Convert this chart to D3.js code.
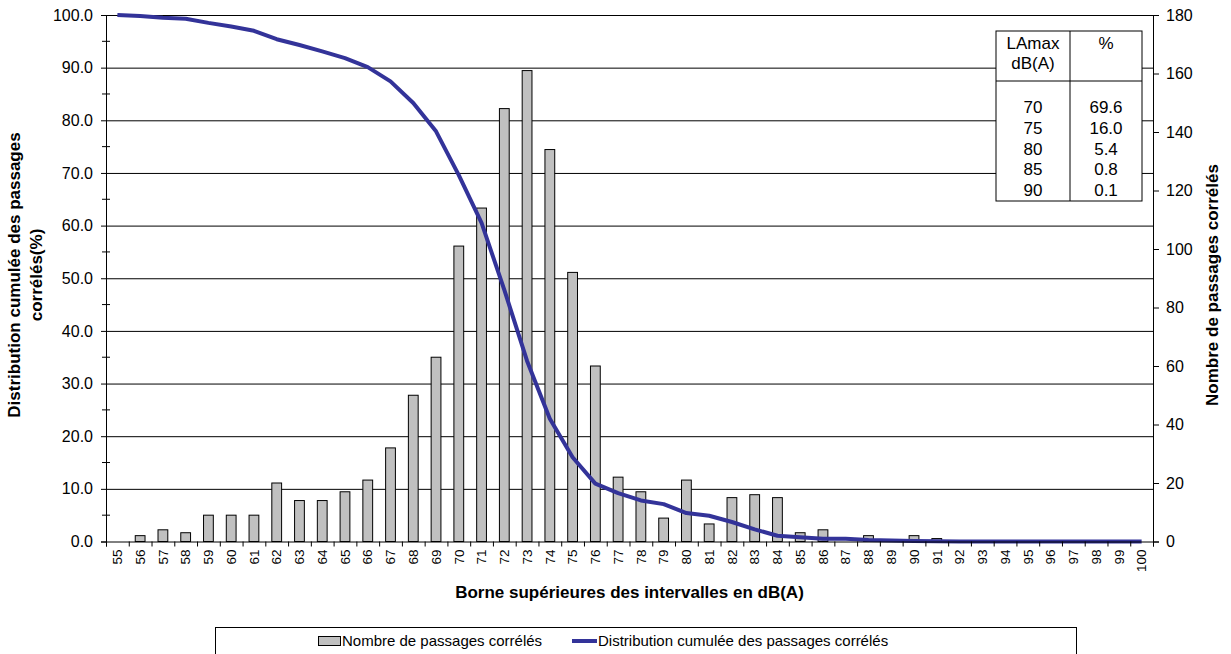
<!DOCTYPE html>
<html>
<head>
<meta charset="utf-8">
<script src="https://cdn.jsdelivr.net/npm/d3@7"></script>
<style>
  body { margin: 0; background: #fff; }
  svg { display: block; font-family: Arial, "Liberation Sans", sans-serif; }
</style>
</head>
<body>
<svg></svg>
<script>
(function() {

  // categories: upper bound of each interval, dB(A)
  var levels = d3.range(55, 101).map(String);

  // number of correlated passages per interval (right axis)
  var counts = [0, 2, 4, 3, 9, 9, 9, 20, 14, 14, 17, 21, 32, 50, 63, 101, 114, 148, 161, 134,
                92, 60, 22, 17, 8, 21, 6, 15, 16, 15, 3, 4, 0, 2, 0, 2, 1, 0, 0, 0,
                0, 0, 0, 0, 0, 0];

  // cumulative distribution of correlated passages, % (left axis)
  var cumul = [100, 99.8, 99.5, 99.3, 98.5, 97.8, 97.0, 95.4, 94.3, 93.1, 91.8, 90.1, 87.4, 83.3, 77.9,
               69.6, 60.5, 47.8, 34.3, 23.3, 16.0, 11.0, 9.2, 7.8, 7.1, 5.4, 4.9, 3.7, 2.3, 1.1,
               0.8, 0.5, 0.5, 0.3, 0.2, 0.1, 0.05, 0, 0, 0, 0, 0, 0, 0, 0, 0];

  var leftTicks = d3.range(0, 101, 10);
  var rightTicks = d3.range(0, 181, 20);

  var tableLevels = ['70', '75', '80', '85', '90'];
  var tablePct = ['69.6', '16.0', '5.4', '0.8', '0.1'];

  var margin = { top: 15, right: 78, bottom: 112.5, left: 106 },
      width = 1231,
      height = 654,
      chartWidth = width - margin.left - margin.right,
      chartHeight = height - margin.top - margin.bottom;

  var svg = d3.select('svg')
      .attr('width', width)
      .attr('height', height)
      .style('background', '#fff');

  var chart = svg.append('g')
      .attr('transform', 'translate(' + margin.left + ',' + margin.top + ')');

  var xScale = d3.scaleBand()
      .domain(levels)
      .range([0, chartWidth])
      .paddingInner(0.57)
      .paddingOuter(0.285);

  var xEdges = d3.scaleLinear()
      .domain([0, levels.length])
      .range([0, chartWidth]);

  var yLeft = d3.scaleLinear().domain([0, 100]).range([chartHeight, 0]);
  var yRight = d3.scaleLinear().domain([0, 180]).range([chartHeight, 0]);

  // gridlines
  chart.append('g')
      .attr('class', 'grid')
      .call(d3.axisLeft(yLeft).tickValues(leftTicks.slice(1)).tickSize(-chartWidth).tickFormat(''))
      .call(function(g) {
        g.select('.domain').remove();
        g.selectAll('line').attr('stroke', '#000').attr('stroke-width', 1);
      });

  // bars
  chart.selectAll('.bar')
      .data(counts)
    .enter().append('rect')
      .attr('class', 'bar')
      .attr('x', function(d, i) { return xScale(levels[i]); })
      .attr('width', xScale.bandwidth())
      .attr('y', function(d) { return yRight(d); })
      .attr('height', function(d) { return chartHeight - yRight(d); })
      .attr('fill', '#c0c0c0')
      .attr('stroke', '#000')
      .attr('stroke-width', 1)
      .style('display', function(d) { return d > 0 ? null : 'none'; });

  // cumulative line
  var lineGenerator = d3.line()
      .x(function(d, i) { return xScale(levels[i]) + xScale.bandwidth() / 2; })
      .y(function(d) { return yLeft(d); });

  chart.append('path')
      .datum(cumul)
      .attr('d', lineGenerator)
      .attr('fill', 'none')
      .attr('stroke', '#333399')
      .attr('stroke-width', 4)
      .attr('stroke-linejoin', 'round');

  // left axis
  chart.append('g')
      .call(d3.axisLeft(yLeft).tickValues(leftTicks).tickFormat(d3.format('.1f')).tickSize(5).tickPadding(8))
      .call(function(g) {
        g.selectAll('text').attr('font-size', 16).attr('fill', '#000');
        g.selectAll('line, path').attr('stroke', '#000');
      });

  // left minor ticks (cross)
  chart.append('g')
      .selectAll('line')
      .data(d3.range(5, 100, 10))
    .enter().append('line')
      .attr('x1', -4).attr('x2', 4)
      .attr('y1', function(d) { return yLeft(d); })
      .attr('y2', function(d) { return yLeft(d); })
      .attr('stroke', '#000');

  // right axis
  chart.append('g')
      .attr('transform', 'translate(' + chartWidth + ',0)')
      .call(d3.axisRight(yRight).tickValues(rightTicks).tickSize(6).tickPadding(7))
      .call(function(g) {
        g.selectAll('text').attr('font-size', 16).attr('fill', '#000');
        g.selectAll('line, path').attr('stroke', '#000');
      });

  // x axis: boundary ticks
  chart.append('g')
      .attr('transform', 'translate(0,' + chartHeight + ')')
      .call(d3.axisBottom(xEdges).tickValues(d3.range(0, levels.length + 1)).tickSize(5).tickFormat(''))
      .call(function(g) {
        g.selectAll('line, path').attr('stroke', '#000');
      });

  // x axis: rotated labels
  chart.append('g')
      .attr('transform', 'translate(0,' + chartHeight + ')')
      .call(d3.axisBottom(xScale).tickSize(0))
      .call(function(g) {
        g.select('.domain').remove();
        g.selectAll('text')
          .attr('font-size', 13.5)
          .attr('fill', '#000')
          .attr('transform', 'rotate(-90)')
          .attr('text-anchor', 'end')
          .attr('x', -8)
          .attr('y', 0)
          .attr('dy', '0.35em');
      });

  // axis titles
  svg.append('text')
      .attr('x', margin.left + chartWidth / 2)
      .attr('y', 598)
      .attr('text-anchor', 'middle')
      .attr('font-size', 17)
      .attr('font-weight', 'bold')
      .text('Borne supérieures des intervalles en dB(A)');

  var leftTitle = svg.append('text')
      .attr('transform', 'translate(0,275) rotate(-90)')
      .attr('text-anchor', 'middle')
      .attr('font-size', 17)
      .attr('font-weight', 'bold');
  leftTitle.append('tspan').attr('x', 0).attr('y', 20).text('Distribution cumulée des passages');
  leftTitle.append('tspan').attr('x', 0).attr('y', 42).text('corrélés(%)');

  svg.append('text')
      .attr('transform', 'translate(1218,285) rotate(-90)')
      .attr('text-anchor', 'middle')
      .attr('font-size', 17)
      .attr('font-weight', 'bold')
      .text('Nombre de passages corrélés');

  // summary table
  var table = svg.append('g').attr('transform', 'translate(996,31)');
  table.append('rect')
      .attr('width', 146).attr('height', 170)
      .attr('fill', '#fff').attr('stroke', '#000');
  table.append('line').attr('x1', 74).attr('x2', 74).attr('y1', 0).attr('y2', 170).attr('stroke', '#000');
  table.append('line').attr('x1', 0).attr('x2', 146).attr('y1', 50).attr('y2', 50).attr('stroke', '#000');
  var head = table.append('text').attr('font-size', 17).attr('text-anchor', 'middle');
  head.append('tspan').attr('x', 37).attr('y', 18).text('LAmax');
  head.append('tspan').attr('x', 37).attr('y', 38).text('dB(A)');
  table.append('text').attr('font-size', 17).attr('text-anchor', 'middle')
      .attr('x', 110).attr('y', 18).text('%');
  table.selectAll('.lv')
      .data(tableLevels)
    .enter().append('text')
      .attr('font-size', 17).attr('text-anchor', 'middle')
      .attr('x', 37)
      .attr('y', function(d, i) { return 82 + i * 20.8; })
      .text(function(d) { return d; });
  table.selectAll('.pc')
      .data(tablePct)
    .enter().append('text')
      .attr('font-size', 17).attr('text-anchor', 'middle')
      .attr('x', 110)
      .attr('y', function(d, i) { return 82 + i * 20.8; })
      .text(function(d) { return d; });

  // legend
  var legend = svg.append('g');
  legend.append('rect')
      .attr('x', 215.5).attr('y', 627.5).attr('width', 861).attr('height', 40)
      .attr('fill', '#fff').attr('stroke', '#000');
  legend.append('rect')
      .attr('x', 318.5).attr('y', 636.5).attr('width', 22).attr('height', 9)
      .attr('fill', '#c0c0c0').attr('stroke', '#000');
  legend.append('text')
      .attr('x', 342).attr('y', 646).attr('font-size', 15)
      .text('Nombre de passages corrélés');
  legend.append('line')
      .attr('x1', 572).attr('x2', 597).attr('y1', 641).attr('y2', 641)
      .attr('stroke', '#333399').attr('stroke-width', 4);
  legend.append('text')
      .attr('x', 598).attr('y', 646).attr('font-size', 15)
      .text('Distribution cumulée des passages corrélés');

})()
</script>
</body>
</html>
